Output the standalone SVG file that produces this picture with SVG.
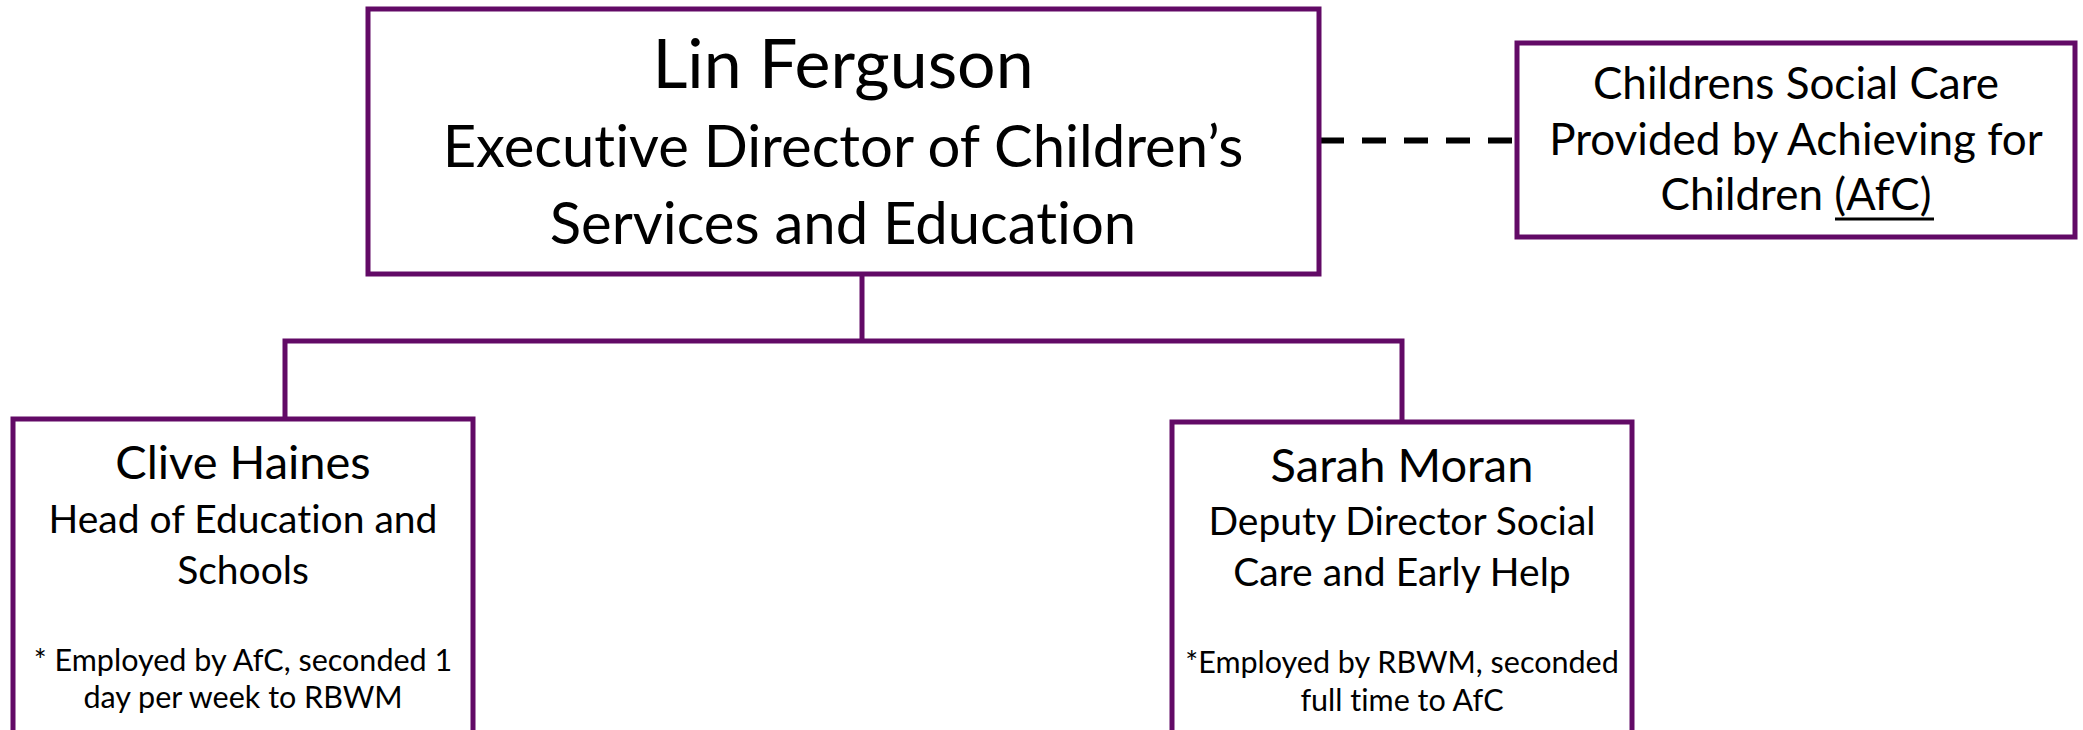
<svg xmlns="http://www.w3.org/2000/svg" width="2083" height="730" viewBox="0 0 2083 730">
<style>
.box{fill:#ffffff;stroke:#620a66;stroke-width:5}
.conn{fill:none;stroke:#620a66;stroke-width:5}
.dash{fill:none;stroke:#000000;stroke-width:6;stroke-dasharray:24 18}
.ul{stroke:#000000;stroke-width:3}
text{font-family:Lato,"Liberation Sans",sans-serif;fill:#000000;text-anchor:middle;font-variant-ligatures:none;font-feature-settings:"liga" 0,"dlig" 0}
.t1{font-size:68px}
.t2{font-size:58px}
.r{font-size:44px}
.n{font-size:47px}
.s{font-size:39px}
.f{font-size:30.5px}
</style>
<rect width="2083" height="730" fill="#ffffff"/>
<g id="connectors">
<path class="conn" d="M285 419 V341 H1402 V422 M862 274 V341"/>
<path class="dash" d="M1320 140.5 H1517"/>
</g>
<g id="lin-ferguson">
<rect class="box" x="368" y="9" width="951" height="265"/>
<text class="t1" x="843" y="88">Lin Ferguson</text>
<text class="t2" x="843" y="167">Executive Director of Children’s</text>
<text class="t2" x="843" y="244">Services and Education</text>
</g>
<g id="childrens-social-care">
<rect class="box" x="1517" y="43" width="558" height="194"/>
<text class="r" x="1796" y="99">Childrens Social Care</text>
<text class="r" x="1796" y="155">Provided by Achieving for</text>
<text class="r" x="1796" y="210">Children (AfC)</text>
<line class="ul" x1="1835" y1="219" x2="1934" y2="219"/>
</g>
<g id="clive-haines">
<rect class="box" x="13" y="419" width="460" height="330"/>
<text class="n" x="243" y="479">Clive Haines</text>
<text class="s" x="243" y="533">Head of Education and</text>
<text class="s" x="243" y="584">Schools</text>
<text class="f" x="243" y="671">* Employed by AfC, seconded 1</text>
<text class="f" x="243" y="708">day per week to RBWM</text>
</g>
<g id="sarah-moran">
<rect class="box" x="1172" y="422" width="460" height="330"/>
<text class="n" x="1402" y="482">Sarah Moran</text>
<text class="s" x="1402" y="535">Deputy Director Social</text>
<text class="s" x="1402" y="586">Care and Early Help</text>
<text class="f" x="1402" y="673">*Employed by RBWM, seconded</text>
<text class="f" x="1402" y="711">full time to AfC</text>
</g>
</svg>
